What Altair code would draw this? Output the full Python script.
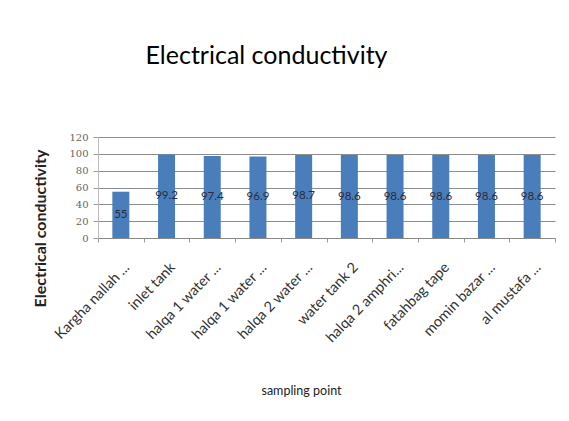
import altair as alt
import pandas as pd

labels = ["Kargha nallah ...", "inlet tank", "halqa 1 water ...", "halqa 1 water ...",
          "halqa 2 water ...", "water tank 2", "halqa 2 amphri...", "fatahbag tape",
          "momin bazar ...", "al mustafa ..."]
values = [55, 99.2, 97.4, 96.9, 98.7, 98.6, 98.6, 98.6, 98.6, 98.6]
value_text = ["55", "99.2", "97.4", "96.9", "98.7", "98.6", "98.6", "98.6", "98.6", "98.6"]
y_ticks = [0, 20, 40, 60, 80, 100, 120]

df = pd.DataFrame({
    "idx": [str(i) for i in range(len(labels))],
    "value": values,
    "txt": value_text,
})

label_expr = "[" + ",".join("'" + l + "'" for l in labels) + "][toNumber(datum.value)]"

FONT = "Lato"

x = alt.X("idx:N", sort=None,
          scale=alt.Scale(paddingInner=0, paddingOuter=0),
          axis=alt.Axis(title="sampling point", labelAngle=-46, labelExpr=label_expr,
                        labelFont=FONT, labelFontSize=14.5, labelColor="#333",
                        labelPadding=23, labelOffset=6, tickBand="extent", tickSize=4,
                        labelOverlap=False,
                        tickColor="#999", domainColor="#888", grid=False,
                        titleFont=FONT, titleFontSize=12.5, titleFontWeight="normal",
                        titleColor="#222", titleX=203, titleY=152,
                        titleBaseline="middle", titleAlign="center"))

bars = alt.Chart(df).mark_bar(size=17, color="#4A7EBB").encode(
    x=x,
    y=alt.Y("value:Q", scale=alt.Scale(domain=[0, 120]),
            axis=alt.Axis(title="Electrical conductivity", values=y_ticks,
                          grid=True, labelOverlap=False,
                          labelFont="DejaVu Serif", labelFontSize=10, labelColor="#666",
                          tickSize=5, tickColor="#999", labelPadding=5,
                          domainColor="#bbb", gridColor="#8c8c8c",
                          titleFont=FONT, titleFontSize=16, titleFontWeight="bold",
                          titleColor="#222", titleX=-58, titleY=91,
                          titleAngle=270, titleAlign="center", titleBaseline="middle")),
)

text = alt.Chart(df).transform_calculate(mid="datum.value / 2").mark_text(
    font=FONT, fontSize=11.5, color="#2a2a3a", baseline="middle", align="center"
).encode(
    x=alt.X("idx:N", sort=None),
    y=alt.Y("mid:Q", axis=None),
    text="txt:N",
)

chart = (bars + text).resolve_axis(y="independent").properties(
    width=457, height=101,
    title=alt.TitleParams("Electrical conductivity", font=FONT, fontSize=25,
                          fontWeight="normal", color="#000", dx=-60, offset=63),
    autosize="none",
    padding={"left": 90, "top": 129, "right": 5, "bottom": 170},
).configure_view(stroke=None)

chart.save("out.html", embed_options={"renderer": "svg", "actions": False})
